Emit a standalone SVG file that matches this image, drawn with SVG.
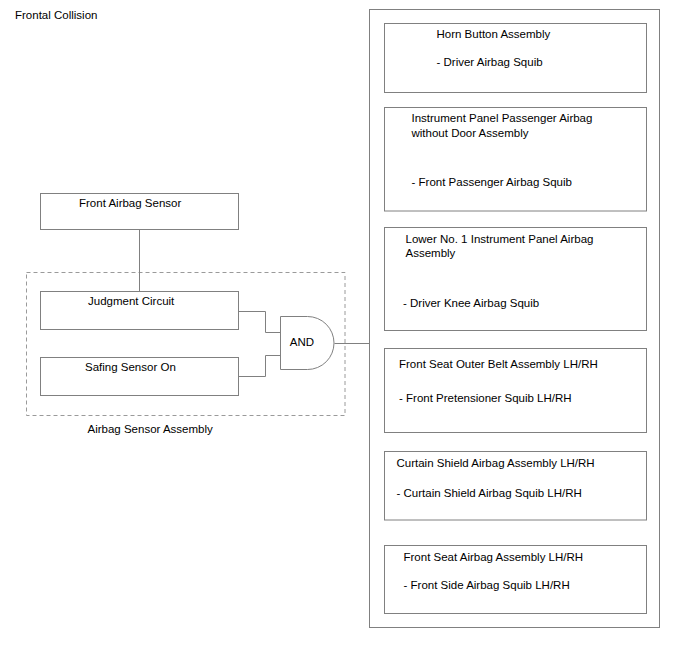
<svg xmlns="http://www.w3.org/2000/svg" width="688" height="658" viewBox="0 0 688 658">
<style>
text{font-family:"Liberation Sans",Arial,sans-serif;font-size:11.5px;fill:#000}
.b{fill:#fff;stroke:#808080;stroke-width:1}
.c{fill:none;stroke:#808080;stroke-width:1}
.d{fill:none;stroke:#9a9a9a;stroke-width:1;stroke-dasharray:4,3}
</style>
<rect width="688" height="658" fill="#fff"/>
<text x="15" y="18.5">Frontal Collision</text>

<g id="airbag-sensor-assembly">
<rect class="d" x="26.5" y="272.5" width="318.5" height="143"/>
<text x="87.5" y="433">Airbag Sensor Assembly</text>
</g>

<g id="connectors">
<path class="c" d="M139.5 229.5V291.5"/>
<path class="c" d="M238.5 311.5H265.5V332.5H280.5"/>
<path class="c" d="M238.5 376.5H265.5V355.5H280.5"/>
<path class="c" d="M334.5 343.5H369.5"/>
</g>

<g id="front-airbag-sensor">
<rect class="b" x="40.5" y="193.5" width="198" height="36"/>
<text x="79" y="206.5">Front Airbag Sensor</text>
</g>
<g id="judgment-circuit">
<rect class="b" x="40.5" y="291.5" width="198" height="38"/>
<text x="88" y="305">Judgment Circuit</text>
</g>
<g id="safing-sensor">
<rect class="b" x="40.5" y="357.5" width="198" height="38"/>
<text x="85" y="370.5">Safing Sensor On</text>
</g>
<g id="and-gate">
<path class="b" d="M280.5 316.5H307.5A26.5 26.5 0 0 1 307.5 369.5H280.5Z"/>
<text x="302" y="345.5" text-anchor="middle">AND</text>
</g>

<g id="squib-group">
<rect class="b" x="369.5" y="9.5" width="290" height="618"/>
</g>
<g id="horn-button">
<rect class="b" x="384.5" y="23.5" width="262" height="69"/>
<text x="436.5" y="38">Horn Button Assembly</text>
<text x="436.5" y="66">- Driver Airbag Squib</text>
</g>
<g id="instrument-panel-passenger">
<rect class="b" x="384.5" y="107.5" width="262" height="103.5"/>
<text x="411.5" y="122">Instrument Panel Passenger Airbag</text>
<text x="411.5" y="136.5">without Door Assembly</text>
<text x="411.5" y="186">- Front Passenger Airbag Squib</text>
</g>
<g id="lower-instrument-panel">
<rect class="b" x="384.5" y="227.5" width="262" height="103"/>
<text x="405.5" y="243">Lower No. 1 Instrument Panel Airbag</text>
<text x="405.5" y="257">Assembly</text>
<text x="403" y="307">- Driver Knee Airbag Squib</text>
</g>
<g id="front-seat-outer-belt">
<rect class="b" x="384.5" y="348.5" width="262" height="84"/>
<text x="399" y="368">Front Seat Outer Belt Assembly LH/RH</text>
<text x="399" y="401.5">- Front Pretensioner Squib LH/RH</text>
</g>
<g id="curtain-shield">
<rect class="b" x="384.5" y="451.5" width="262" height="68.5"/>
<text x="396.5" y="467">Curtain Shield Airbag Assembly LH/RH</text>
<text x="396.5" y="496.5">- Curtain Shield Airbag Squib LH/RH</text>
</g>
<g id="front-seat-airbag">
<rect class="b" x="384.5" y="545.5" width="262" height="68"/>
<text x="403.5" y="560.5">Front Seat Airbag Assembly LH/RH</text>
<text x="403.5" y="588.5">- Front Side Airbag Squib LH/RH</text>
</g>
</svg>
